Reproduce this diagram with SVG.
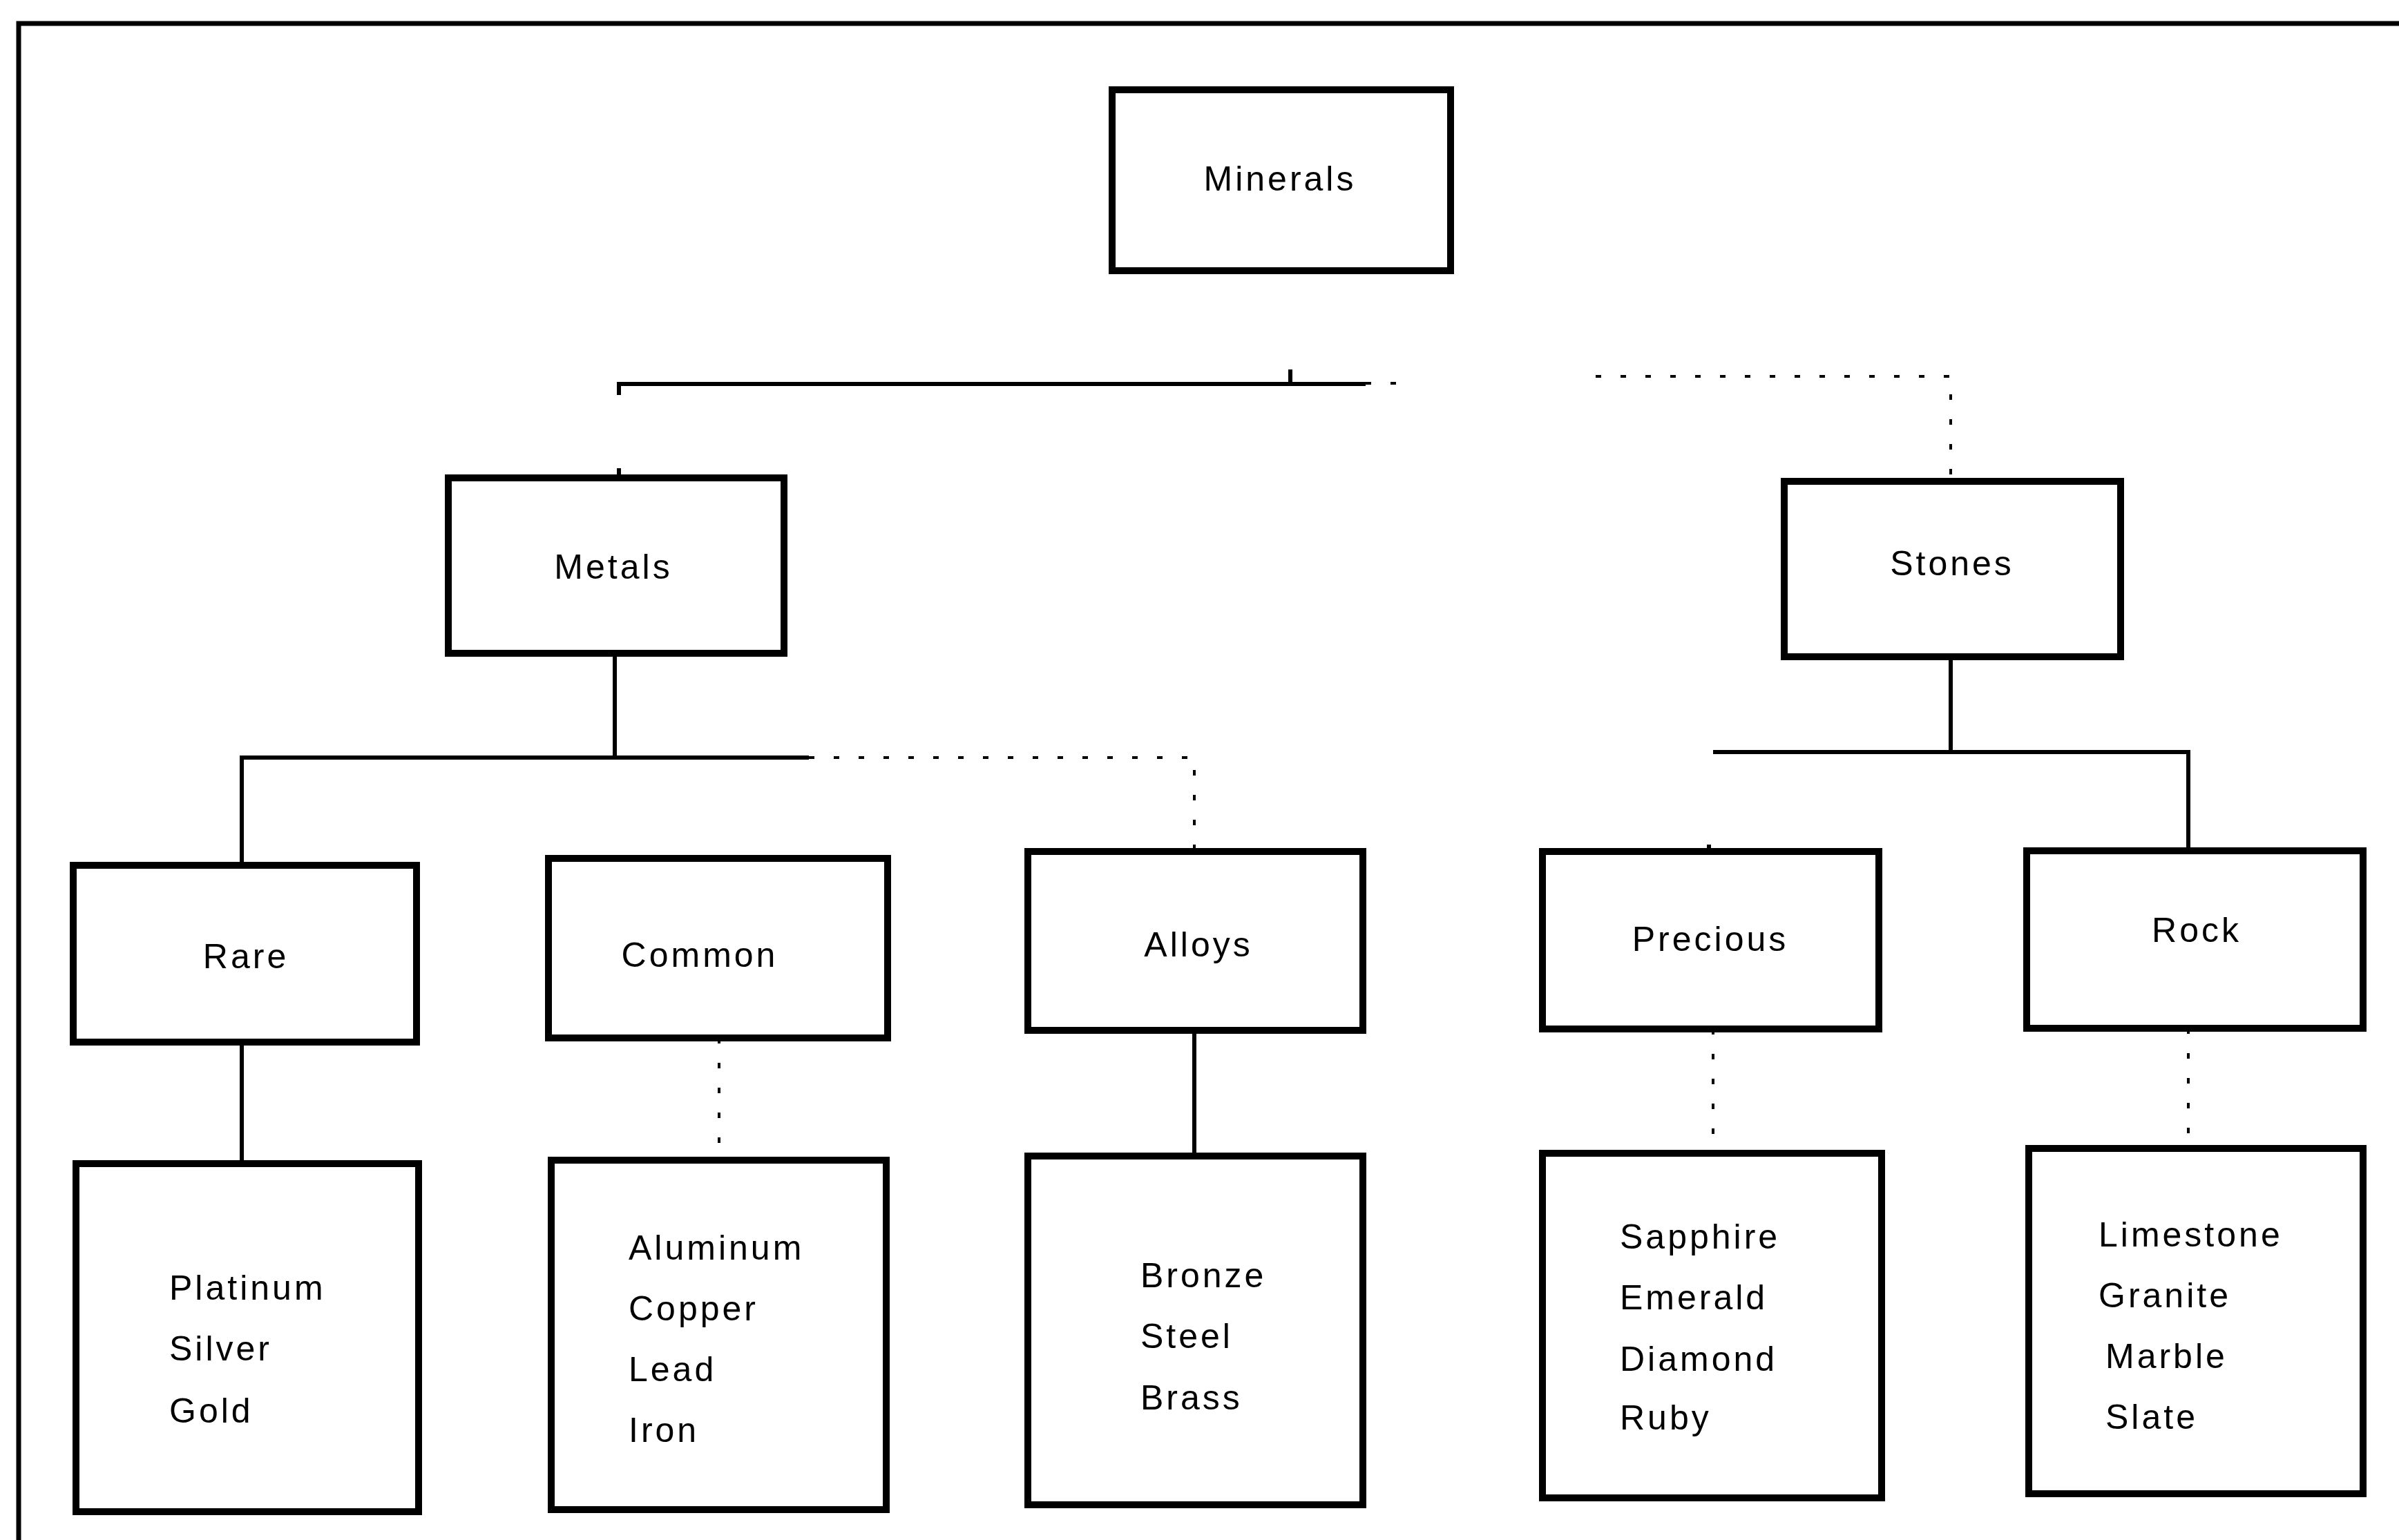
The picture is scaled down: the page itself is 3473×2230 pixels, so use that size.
<svg xmlns="http://www.w3.org/2000/svg" width="3473" height="2230" viewBox="0 0 3473 2230">
<style>
.box{fill:#fff;stroke:#000;stroke-width:10}
.lbl{font-family:"Liberation Sans",Arial,sans-serif;font-size:50px;letter-spacing:4px;fill:#000}
.mid{text-anchor:middle}
.c{fill:none;stroke:#000;stroke-width:6}
.d{fill:none;stroke:#000;stroke-width:4;stroke-dasharray:8 28}
.frame{fill:none;stroke:#000;stroke-width:7}
</style>
<rect width="3473" height="2230" fill="#fff"/>
<path class="frame" d="M27,2230 V34 H3473"/>
<g id="connectors">
  <!-- Minerals to level 1 -->
  <path class="c" d="M1868,535 V556"/>
  <path class="c" d="M896,572 V556 H1977"/>
  <path class="d" d="M1977,555 H2045"/>
  <path class="d" d="M2310,545 H2824 V697"/>
  <path class="c" d="M896,678 V692"/>
  <!-- Metals to level 2 -->
  <path class="c" d="M890,946 V1097"/>
  <path class="c" d="M350,1253 V1097 H1171"/>
  <path class="d" d="M1171,1097 H1729 V1233"/>
  <!-- Stones to level 2 -->
  <path class="c" d="M2824,951 V1089"/>
  <path class="c" d="M2480,1089 H3168 V1232"/>
  <path class="c" d="M2474,1223 V1233"/>
  <!-- level 2 to leaves -->
  <path class="c" d="M350,1509 V1685"/>
  <path class="d" d="M1041,1503 V1680"/>
  <path class="c" d="M1729,1492 V1674"/>
  <path class="d" d="M2480,1490 V1670"/>
  <path class="d" d="M3168,1489 V1663"/>
</g>
<g id="minerals">
  <rect class="box" x="1610" y="130" width="490" height="262"/>
  <text class="lbl mid" x="1853" y="276">Minerals</text>
</g>
<g id="metals">
  <rect class="box" x="649" y="692" width="486" height="254"/>
  <text class="lbl mid" x="888" y="838">Metals</text>
</g>
<g id="stones">
  <rect class="box" x="2583" y="697" width="487" height="254"/>
  <text class="lbl mid" x="2826" y="833">Stones</text>
</g>
<g id="rare">
  <rect class="box" x="106" y="1253" width="497" height="256"/>
  <text class="lbl mid" x="356" y="1402">Rare</text>
</g>
<g id="common">
  <rect class="box" x="794" y="1243" width="491" height="260"/>
  <text class="lbl mid" x="1013" y="1400">Common</text>
</g>
<g id="alloys">
  <rect class="box" x="1488" y="1233" width="485" height="259"/>
  <text class="lbl mid" x="1735" y="1385">Alloys</text>
</g>
<g id="precious">
  <rect class="box" x="2233" y="1233" width="487" height="257"/>
  <text class="lbl mid" x="2476" y="1377">Precious</text>
</g>
<g id="rock">
  <rect class="box" x="2934" y="1232" width="487" height="257"/>
  <text class="lbl mid" x="3180" y="1364">Rock</text>
</g>
<g id="rare-list">
  <rect class="box" x="110" y="1685" width="496" height="504"/>
  <text class="lbl" x="245" y="1882">Platinum</text>
  <text class="lbl" x="245" y="1970">Silver</text>
  <text class="lbl" x="245" y="2060">Gold</text>
</g>
<g id="common-list">
  <rect class="box" x="798" y="1680" width="485" height="506"/>
  <text class="lbl" x="910" y="1824">Aluminum</text>
  <text class="lbl" x="910" y="1912">Copper</text>
  <text class="lbl" x="910" y="2000">Lead</text>
  <text class="lbl" x="910" y="2088">Iron</text>
</g>
<g id="alloys-list">
  <rect class="box" x="1488" y="1674" width="485" height="505"/>
  <text class="lbl" x="1651" y="1864">Bronze</text>
  <text class="lbl" x="1651" y="1952">Steel</text>
  <text class="lbl" x="1651" y="2041">Brass</text>
</g>
<g id="precious-list">
  <rect class="box" x="2233" y="1670" width="491" height="499"/>
  <text class="lbl" x="2345" y="1808">Sapphire</text>
  <text class="lbl" x="2345" y="1896">Emerald</text>
  <text class="lbl" x="2345" y="1985">Diamond</text>
  <text class="lbl" x="2345" y="2070">Ruby</text>
</g>
<g id="rock-list">
  <rect class="box" x="2937" y="1663" width="484" height="500"/>
  <text class="lbl" x="3038" y="1805">Limestone</text>
  <text class="lbl" x="3038" y="1893">Granite</text>
  <text class="lbl" x="3048" y="1981">Marble</text>
  <text class="lbl" x="3048" y="2069">Slate</text>
</g>
</svg>
